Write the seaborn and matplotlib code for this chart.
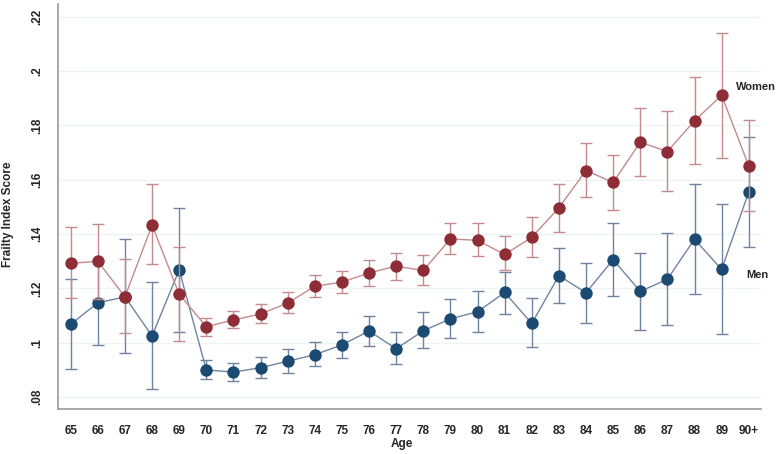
import numpy as np
import pandas as pd
import matplotlib
matplotlib.use("Agg")
import matplotlib.pyplot as plt
import seaborn as sns

ages = ["65", "66", "67", "68", "69", "70", "71", "72", "73", "74", "75", "76", "77",
        "78", "79", "80", "81", "82", "83", "84", "85", "86", "87", "88", "89", "90+"]

women = [0.1292, 0.1300, 0.1169, 0.1433, 0.1179, 0.1059, 0.1084, 0.1106, 0.1146, 0.1208,
         0.1223, 0.1257, 0.1282, 0.1266, 0.1382, 0.1377, 0.1325, 0.1388, 0.1497, 0.1634,
         0.1590, 0.1738, 0.1704, 0.1817, 0.1911, 0.1651]
women_lo = [0.1163, 0.1160, 0.1035, 0.1290, 0.1007, 0.1026, 0.1054, 0.1074, 0.1108, 0.1167,
            0.1182, 0.1209, 0.1232, 0.1212, 0.1328, 0.1318, 0.1268, 0.1314, 0.1409, 0.1535,
            0.1490, 0.1614, 0.1558, 0.1657, 0.1680, 0.1486]
women_hi = [0.1425, 0.1438, 0.1309, 0.1583, 0.1351, 0.1092, 0.1116, 0.1144, 0.1185, 0.1248,
            0.1265, 0.1304, 0.1331, 0.1322, 0.1439, 0.1439, 0.1394, 0.1464, 0.1584, 0.1734,
            0.1691, 0.1863, 0.1854, 0.1980, 0.2142, 0.1820]

men = [0.1068, 0.1147, 0.1169, 0.1025, 0.1268, 0.0900, 0.0892, 0.0908, 0.0932, 0.0956,
       0.0992, 0.1043, 0.0978, 0.1044, 0.1088, 0.1114, 0.1185, 0.1071, 0.1247, 0.1184,
       0.1306, 0.1189, 0.1234, 0.1381, 0.1270, 0.1555]
men_lo = [0.0903, 0.0992, 0.0963, 0.0829, 0.1040, 0.0865, 0.0860, 0.0869, 0.0890, 0.0914,
          0.0945, 0.0988, 0.0920, 0.0980, 0.1017, 0.1038, 0.1104, 0.0983, 0.1145, 0.1071,
          0.1172, 0.1048, 0.1065, 0.1179, 0.1031, 0.1353]
men_hi = [0.1233, 0.1300, 0.1381, 0.1225, 0.1495, 0.0936, 0.0926, 0.0948, 0.0976, 0.1001,
          0.1040, 0.1097, 0.1038, 0.1112, 0.1162, 0.1189, 0.1260, 0.1163, 0.1349, 0.1294,
          0.1441, 0.1330, 0.1405, 0.1584, 0.1512, 0.1758]

yticks = [0.08, 0.10, 0.12, 0.14, 0.16, 0.18, 0.20, 0.22]
ytick_labels = [".08", ".1", ".12", ".14", ".16", ".18", ".2", ".22"]

sns.set_style("white")
plt.rcParams["font.family"] = ["Liberation Sans", "DejaVu Sans"]

fig = plt.figure(figsize=(7.76, 4.54), dpi=100)
ax = fig.add_axes([58.3 / 776, 1 - 409.3 / 454, (760.7 - 58.3) / 776, (409.3 - 4) / 454])

pos = np.arange(len(ages))
df = pd.DataFrame({
    "pos": np.concatenate([pos, pos]),
    "score": men + women,
    "sex": ["Men"] * len(ages) + ["Women"] * len(ages),
})

for y in yticks:
    ax.axhline(y, color="#EEF3F4", lw=1.0, zorder=0)

series = [
    ("Men", men, men_lo, men_hi, "#1B4A72", "#7084A0"),
    ("Women", women, women_lo, women_hi, "#8E2D36", "#C48A8C"),
]
z = 2
for name, vals, lo, hi, mcol, lcol in series:
    vals_a = np.array(vals)
    yerr = np.vstack([vals_a - np.array(lo), np.array(hi) - vals_a])
    ax.errorbar(pos, vals_a, yerr=yerr, fmt="none", ecolor=lcol, elinewidth=1.0,
                capsize=4.3, capthick=1.0, zorder=z)
    sub = df[df["sex"] == name]
    sns.lineplot(data=sub, x="pos", y="score", ax=ax, color=lcol, lw=1.0,
                 legend=False, zorder=z + 0.5, estimator=None)
    sns.scatterplot(data=sub, x="pos", y="score", ax=ax, color=mcol, s=80,
                    linewidth=0, legend=False, zorder=z + 1)
    z += 3

ax.set_xlim(-0.457, 25.44)
ax.set_ylim(0.0755, 0.2247)
ax.set_xticks(pos)
ax.set_xticklabels(ages, fontsize=8.5, fontweight="bold")
ax.set_yticks(yticks)
ax.set_yticklabels(ytick_labels, fontsize=8.5, fontweight="bold", rotation=90, va="center")
ax.tick_params(axis="x", length=9, width=1, color="#999999", pad=2)
ax.tick_params(axis="y", length=8, width=1, color="#999999", pad=3)

for s in ["top", "right"]:
    ax.spines[s].set_visible(False)
for s in ["left", "bottom"]:
    ax.spines[s].set_color("#999999")
    ax.spines[s].set_linewidth(1.2)

ax.set_xlabel("Age", fontsize=8.5, fontweight="bold")
ax.xaxis.set_label_coords((401.7 - 58.3) / 702.4, -(444 - 409.3) / 405.3)
ax.xaxis.label.set_va("center")
ax.set_ylabel("Frailty Index Score", fontsize=8.5, fontweight="bold")
ax.yaxis.set_label_coords(-(58.3 - 8) / 702.4, (409.3 - 214) / 405.3)
ax.yaxis.label.set_va("center")

ax.text(24.53, 0.1942, "Women", fontsize=8, fontweight="bold", va="center", ha="left")
ax.text(24.9, 0.1249, "Men", fontsize=8, fontweight="bold", va="center", ha="left")

fig.savefig("out.png", dpi=100)
